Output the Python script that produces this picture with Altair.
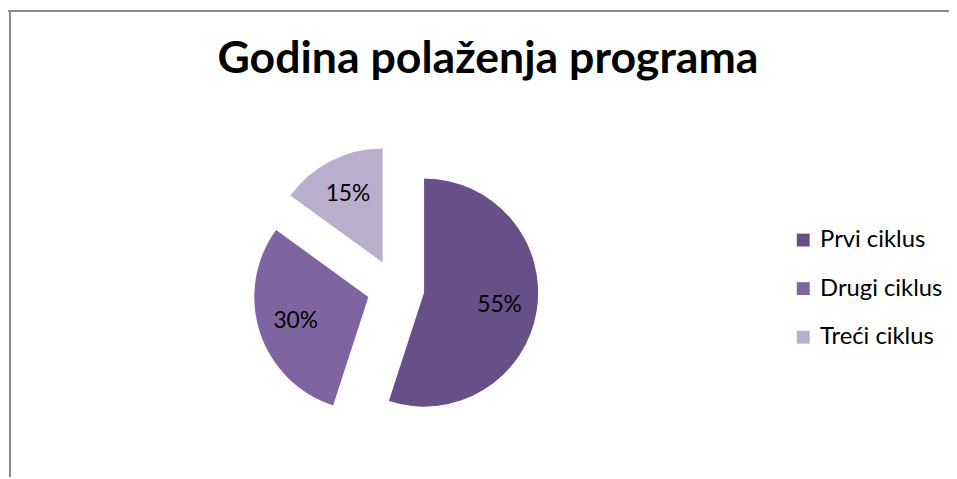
import altair as alt
import pandas as pd

TITLE = "Godina polaženja programa"
categories = ["Prvi ciklus", "Drugi ciklus", "Treći ciklus"]
values = [55, 30, 15]
colors = ["#684F88", "#8064A2", "#B9AECC"]

df = pd.DataFrame({"cat": categories, "val": values, "order": list(range(len(categories)))})

W, H = 949, 381
PAD_TOP = 90
CX, CY = 391, 190.5
R = 115
EXPLODE = 29
LABEL_R = 77
FONT = "Lato"

base = (
    alt.Chart(df)
    .transform_joinaggregate(total="sum(val)")
    .transform_window(cum="sum(val)", sort=[alt.SortField("order")], frame=[None, 0])
    .transform_calculate(
        t1="2*PI*datum.cum/datum.total",
        t0="2*PI*(datum.cum-datum.val)/datum.total",
        label="round(100*datum.val/datum.total)+'%'",
    )
    .transform_calculate(mid="(datum.t0+datum.t1)/2")
    .transform_calculate(
        px=f"{CX}+{EXPLODE}*sin(datum.mid)",
        py=f"{CY}-{EXPLODE}*cos(datum.mid)",
        lx=f"{CX}+{EXPLODE + LABEL_R}*sin(datum.mid)",
        ly=f"{CY}-{EXPLODE + LABEL_R}*cos(datum.mid)",
    )
)

arcs = base.mark_arc(radius=R).encode(
    theta=alt.Theta("t0:Q", scale=None, stack=None),
    theta2="t1:Q",
    x=alt.X("px:Q", scale=None, axis=None),
    y=alt.Y("py:Q", scale=None, axis=None),
    color=alt.Color(
        "cat:N",
        scale=alt.Scale(domain=categories, range=colors),
        sort=categories,
        legend=alt.Legend(
            title=None,
            orient="none",
            legendX=790,
            legendY=130,
            symbolType="square",
            symbolSize=169,
            symbolStrokeWidth=0,
            labelFontSize=24,
            labelFont=FONT,
            labelColor="black",
            labelOffset=5,
            rowPadding=25,
        ),
    ),
)

labels = base.mark_text(font=FONT, fontSize=23, color="black").encode(
    x=alt.X("lx:Q", scale=None, axis=None),
    y=alt.Y("ly:Q", scale=None, axis=None),
    text="label:N",
)

title_df = pd.DataFrame({"t": [TITLE]})
title = alt.Chart(title_df).mark_text(
    font=FONT, fontSize=45, fontWeight="bold", color="black", baseline="alphabetic", align="center"
).encode(text="t:N", x=alt.value(484), y=alt.value(-26))

frame_df = pd.DataFrame({"k": [0]})
frame_v = alt.Chart(frame_df).mark_rule(color="#8c8c8c", strokeWidth=2).encode(
    x=alt.value(2), y=alt.value(-PAD_TOP), y2=alt.value(H)
)
frame_h = alt.Chart(frame_df).mark_rule(color="#8c8c8c", strokeWidth=2).encode(
    x=alt.value(0), x2=alt.value(W), y=alt.value(-PAD_TOP + 1)
)

chart = (
    alt.layer(arcs, labels, title, frame_v, frame_h)
    .properties(
        width=W,
        height=H,
        padding={"left": 0, "top": PAD_TOP, "right": 0, "bottom": 0},
        autosize=alt.AutoSizeParams(type="none"),
        background="white",
    )
    .configure_view(stroke=None)
)

chart.save("out.html", embed_options={"renderer": "svg", "actions": False})
